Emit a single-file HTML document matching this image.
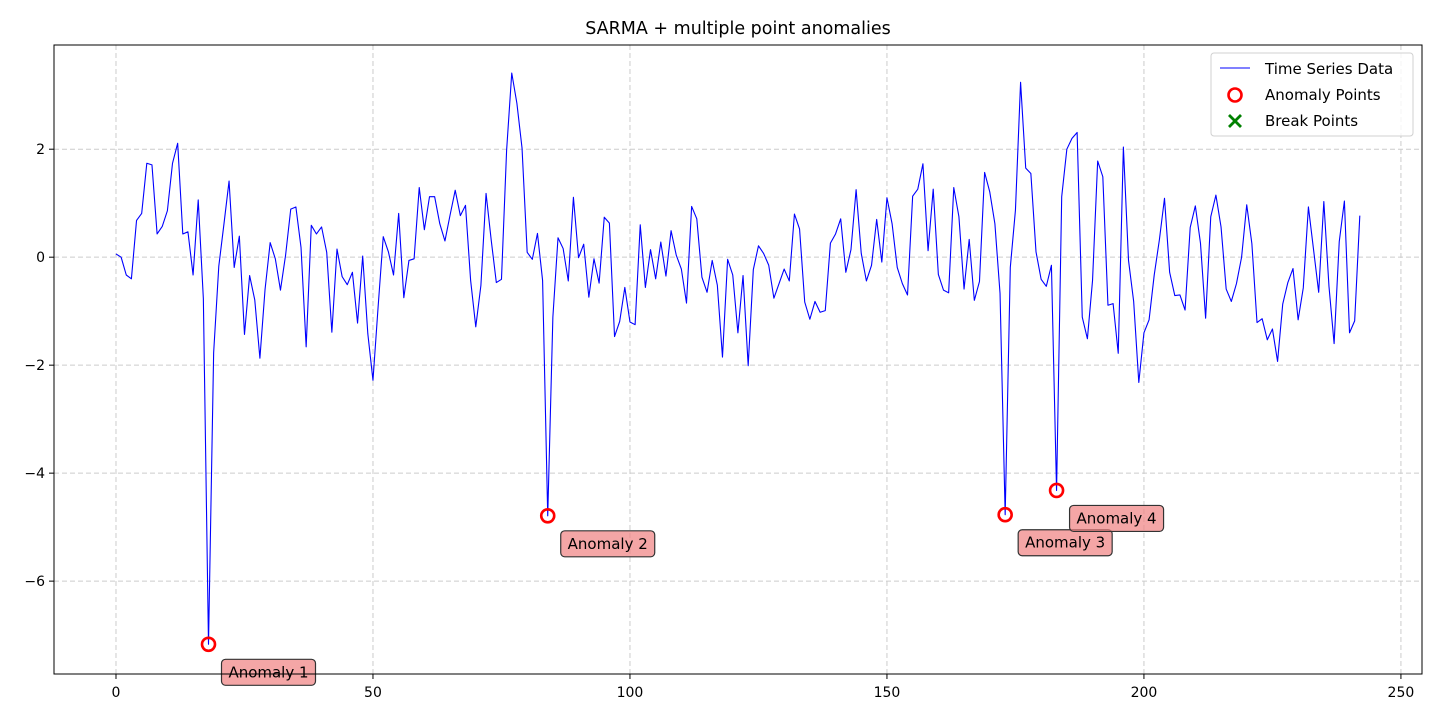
<!DOCTYPE html>
<html><head><meta charset="utf-8"><style>
html,body{margin:0;padding:0;background:#fff;}
svg text{font-family:"DejaVu Sans","Liberation Sans",sans-serif;}
</style></head><body>
<svg id="chart" width="1440" height="720" xmlns="http://www.w3.org/2000/svg"></svg>
<script>
const seriesValues = [0.06,0.0,-0.33,-0.4,0.68,0.81,1.74,1.71,0.43,0.57,0.86,1.74,2.11,0.43,0.47,-0.33,1.06,-0.77,-7.17,-1.77,
-0.17,0.61,1.41,-0.19,0.39,-1.43,-0.34,-0.79,-1.87,-0.6,0.27,-0.03,-0.61,0.04,0.89,0.93,0.18,-1.66,0.59,0.43,
0.56,0.09,-1.39,0.15,-0.36,-0.51,-0.28,-1.22,0.02,-1.42,-2.28,-0.92,0.38,0.1,-0.33,0.81,-0.75,-0.06,-0.03,1.29,
0.51,1.12,1.12,0.62,0.3,0.78,1.24,0.77,0.96,-0.43,-1.29,-0.52,1.18,0.32,-0.47,-0.41,1.98,3.41,2.85,2.02,
0.09,-0.04,0.44,-0.43,-4.79,-1.11,0.36,0.16,-0.44,1.11,-0.01,0.24,-0.74,-0.03,-0.48,0.74,0.63,-1.47,-1.19,-0.56,
-1.2,-1.25,0.6,-0.56,0.14,-0.4,0.28,-0.35,0.49,0.04,-0.22,-0.85,0.94,0.71,-0.37,-0.65,-0.06,-0.52,-1.85,-0.04,
-0.33,-1.4,-0.34,-2.01,-0.23,0.21,0.07,-0.15,-0.76,-0.49,-0.22,-0.44,0.8,0.52,-0.83,-1.15,-0.82,-1.02,-0.99,0.26,
0.43,0.71,-0.28,0.14,1.25,0.07,-0.44,-0.15,0.7,-0.09,1.1,0.62,-0.19,-0.49,-0.7,1.13,1.26,1.73,0.12,1.26,
-0.32,-0.61,-0.66,1.29,0.75,-0.59,0.33,-0.8,-0.45,1.57,1.21,0.62,-0.67,-4.77,-0.19,0.87,3.24,1.65,1.55,0.1,
-0.41,-0.54,-0.15,-4.32,1.12,2.0,2.2,2.31,-1.11,-1.51,-0.43,1.78,1.49,-0.89,-0.86,-1.78,2.04,-0.06,-0.82,-2.32,
-1.4,-1.16,-0.33,0.32,1.09,-0.28,-0.71,-0.7,-0.98,0.55,0.95,0.26,-1.13,0.75,1.15,0.56,-0.59,-0.82,-0.49,0.0,
0.97,0.25,-1.21,-1.14,-1.53,-1.33,-1.93,-0.87,-0.47,-0.21,-1.16,-0.57,0.93,0.14,-0.65,1.03,-0.54,-1.6,0.29,1.04,
-1.4,-1.18,0.77];
const anomalyIndices = [18, 84, 173, 183];
const anomalyLabels = ["Anomaly 1","Anomaly 2","Anomaly 3","Anomaly 4"];
const xTicks = [0,50,100,150,200,250];
const yTicks = [-6,-4,-2,0,2];

const L=54,T=45,R=1422,B=674;
const xMin=-12.06,xMax=254.1,yMin=-7.72,yMax=3.93;
const sx=v=>L+(v-xMin)/(xMax-xMin)*(R-L);
const sy=v=>B-(v-yMin)/(yMax-yMin)*(B-T);
const svg=document.getElementById('chart');
const NS='http://www.w3.org/2000/svg';
function mk(tag,attrs,parent){const e=document.createElementNS(NS,tag);for(const k in attrs)e.setAttribute(k,attrs[k]);(parent||svg).appendChild(e);return e;}

const title=mk('text',{x:(L+R)/2,y:34,'text-anchor':'middle','font-size':'17.5'});
title.textContent='SARMA + multiple point anomalies';



const grid=mk('g',{});


xTicks.forEach(t=>{
  const x=sx(t);
  const g=mk('line',{x1:x,x2:x,y1:T,y2:B,stroke:'#cccccc','stroke-dasharray':'5,3','stroke-width':1},grid);
  
  
  const tk=mk('line',{x1:x,x2:x,y1:B,y2:B+5,stroke:'#000'});
  
  
  const lb=mk('text',{x:x,y:B+23,'text-anchor':'middle','font-size':'14'});
  lb.textContent=t;
  
  
});
yTicks.forEach(t=>{
  const y=sy(t);
  const g=mk('line',{x1:L,x2:R,y1:y,y2:y,stroke:'#cccccc','stroke-dasharray':'5,3','stroke-width':1},grid);
  
  
  const tk=mk('line',{x1:L-5,x2:L,y1:y,y2:y,stroke:'#000'});
  
  
  const lb=mk('text',{x:L-9,y:y+5,'text-anchor':'end','font-size':'14'});
  lb.textContent=(t<0?'\u2212'+(-t):t);
  
  
});

const pts=seriesValues.map((v,i)=>sx(i).toFixed(2)+','+sy(v).toFixed(2)).join(' ');
const line=mk('polyline',{points:pts,fill:'none',stroke:'#0000ff','stroke-width':1.1,'stroke-linejoin':'round'});



anomalyIndices.forEach((idx,k)=>{
  const x=sx(idx),y=sy(seriesValues[idx]);
  const c=mk('circle',{cx:x,cy:y,r:6.5,fill:'none',stroke:'#ff0000','stroke-width':2.6});
  
  
  const g=mk('g',{});
  
  
  const w=94;
  mk('rect',{x:x+13,y:y+15,width:w,height:26,rx:4,fill:'rgba(240,128,128,0.7)',stroke:'#333','stroke-width':1.2},g);
  const tx=mk('text',{x:x+13+w/2,y:y+33,'text-anchor':'middle','font-size':'15'},g);
  tx.textContent=anomalyLabels[k];
});

const frame=mk('rect',{x:L,y:T,width:R-L,height:B-T,fill:'none',stroke:'#000','stroke-width':1});



const lg=mk('g',{});


mk('rect',{x:1211,y:53,width:202,height:83,rx:3,fill:'rgba(255,255,255,0.8)',stroke:'#d0d0d0'},lg);
const e1=mk('g',{},lg);


mk('line',{x1:1220,x2:1250,y1:68,y2:68,stroke:'#0000ff','stroke-width':1.1},e1);
mk('text',{x:1265,y:74,'font-size':'15'},e1).textContent='Time Series Data';
const e2=mk('g',{},lg);


mk('circle',{cx:1235,cy:95,r:6.5,fill:'none',stroke:'#ff0000','stroke-width':2.6},e2);
mk('text',{x:1265,y:100,'font-size':'15'},e2).textContent='Anomaly Points';
const e3=mk('g',{},lg);


mk('path',{d:'M1229,115 L1241,127 M1241,115 L1229,127',stroke:'#008000','stroke-width':2.8},e3);
mk('text',{x:1265,y:126,'font-size':'15'},e3).textContent='Break Points';
</script>
</body></html>
